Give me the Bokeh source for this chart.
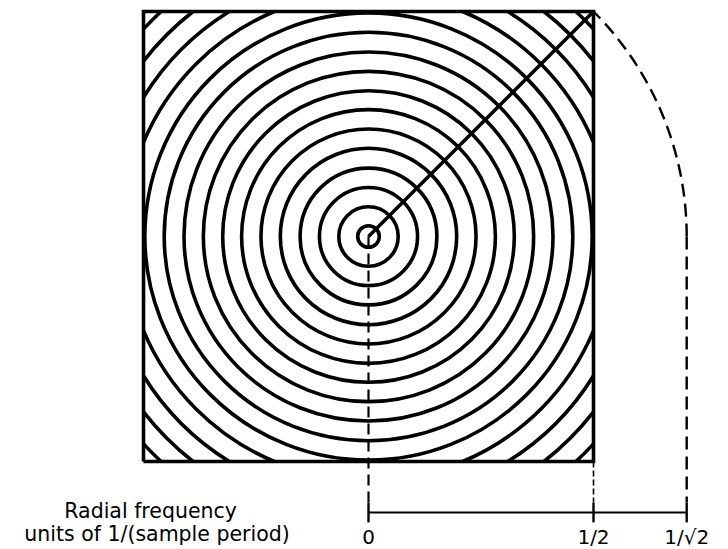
import numpy as np
from bokeh.plotting import figure
from bokeh.models import Range1d, ColumnDataSource
from bokeh.core.properties import value
from bokeh.embed import file_html
from bokeh.resources import INLINE

# ---- data (frequency units) ----
ring_radii = [0.024, 0.066, 0.109, 0.152, 0.196, 0.239, 0.282, 0.324,
              0.367, 0.410, 0.454, 0.497, 0.542, 0.588, 0.634, 0.680]
half_side = 0.5                       # Nyquist square: -1/2 .. 1/2
scale_ticks = [0.0, 0.5, 0.70710678]
tick_labels = ["0", "1/2", "1/\u221a2"]
title_lines = ["Radial frequency", "units of 1/(sample period)"]

# ---- layout (positions in data units) ----
W, H = 728, 549
PX = 450.0
x0, y0 = 368.0, 236.0                 # pixel of the origin inside the canvas
p = figure(width=W, height=H, output_backend="svg", toolbar_location=None,
           x_range=Range1d(-x0 / PX, (W - x0) / PX),
           y_range=Range1d(-(H - y0) / PX, y0 / PX),
           min_border=0, min_border_left=0, min_border_right=0,
           min_border_top=0, min_border_bottom=0)
p.axis.visible = False
p.grid.visible = False
p.outline_line_color = None
p.background_fill_color = "white"
p.border_fill_color = "white"

LW = 3.6
# full rings (inside the square)
full = [r for r in ring_radii if r <= half_side]
p.circle(x=[0] * len(full), y=[0] * len(full), radius=full,
         fill_color=None, line_color="black", line_width=LW)

# rings clipped by the square: four arcs each
xs, ys, rs, sa, ea = [], [], [], [], []
for r in ring_radii:
    if r > half_side:
        a = np.arccos(half_side / r)
        for q in range(4):
            xs.append(0); ys.append(0); rs.append(r)
            sa.append(q * np.pi / 2 + a)
            ea.append(q * np.pi / 2 + np.pi / 2 - a)
p.arc(x="x", y="y", radius="r", start_angle="s", end_angle="e",
      source=ColumnDataSource(dict(x=xs, y=ys, r=rs, s=sa, e=ea)),
      line_color="black", line_width=LW)

# square border
hs = half_side
p.line(x=[-hs, hs, hs, -hs, -hs], y=[-hs, -hs, hs, hs, -hs],
       line_color="black", line_width=LW, line_join="miter")

# diagonal from centre to corner
p.line(x=[0, hs], y=[0, hs], line_color="black", line_width=LW)

rmax = scale_ticks[2]
# dashed arc from the corner down to the horizontal
p.arc(x=[0], y=[0], radius=[rmax], start_angle=[0], end_angle=[np.pi / 4],
      line_color="black", line_width=2.4, line_dash="13 7")

scale_y = -0.6133
tk = 0.022
# dashed drop lines
p.line(x=[0, 0], y=[0, scale_y + tk], line_color="black", line_width=2.2,
       line_dash="11 6")
p.line(x=[hs, hs], y=[-hs, scale_y + tk], line_color="black", line_width=1.6,
       line_dash="6 3")
p.line(x=[rmax, rmax], y=[0, scale_y + tk], line_color="black", line_width=2.4,
       line_dash="13 7")

# scale bar
p.line(x=[scale_ticks[0], scale_ticks[-1]], y=[scale_y, scale_y],
       line_color="black", line_width=2)
p.segment(x0=scale_ticks, y0=[scale_y - tk] * 3, x1=scale_ticks,
          y1=[scale_y + tk] * 3, line_color="black", line_width=2.4)

p.text(x=scale_ticks, y=[-0.6667] * 3, text=tick_labels,
       text_font=value("DejaVu Sans"), text_font_size="20px",
       text_align="center", text_baseline="alphabetic", text_color="black")

p.text(x=[-0.676, -0.765], y=[-0.6111, -0.6622], text=title_lines,
       text_font=value("DejaVu Sans"), text_font_size="20.5px",
       text_align="left", text_baseline="alphabetic", text_color="black")

open("out.html", "w").write(file_html(p, INLINE))
